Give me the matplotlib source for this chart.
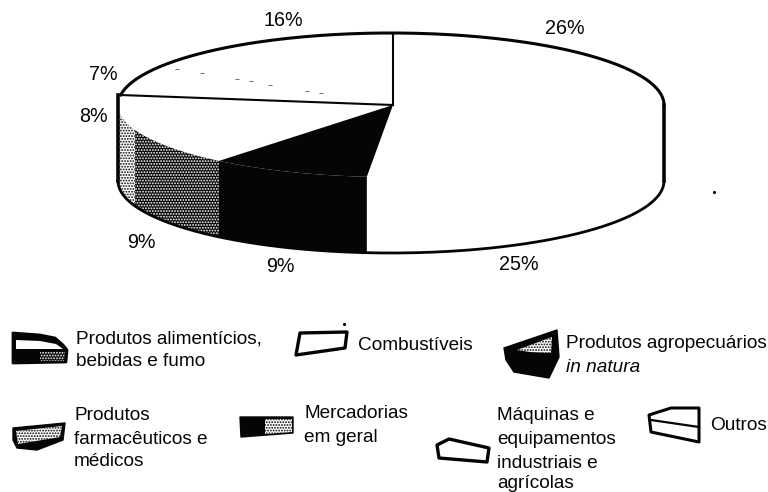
"""
Pie (fake 3D) of cargo shares with a hand-placed legend, scan-like look.
Everything is drawn in pixel coordinates of the 768x492 picture.
"""
import numpy as np
import matplotlib
matplotlib.use("Agg")
import matplotlib.pyplot as plt
from matplotlib.patches import Polygon

plt.rcParams['font.family'] = ['Liberation Sans', 'DejaVu Sans']
plt.rcParams['hatch.linewidth'] = 0.9

# clockwise from the top; shares are measured off the drawing, printed ones differ a bit
categories = ["Combustíveis", "Produtos alimentícios, bebidas e fumo",
              "Produtos agropecuários in natura", "Produtos farmacêuticos e médicos",
              "Mercadorias em geral", "Máquinas e equipamentos industriais e agrícolas",
              "Outros"]
shares = [26.0, 25.4, 9.44, 8.5, 7.86, 6.78, 16.0]
printed = ["26%", "25%", "9%", "9%", "8%", "7%", "16%"]

CX, CY = 391, 105      # centre of the top ellipse
A, B = 273, 72         # half axes
DEPTH = 76             # height of the side wall
APEX = (393, 105)      # the wedges meet slightly off centre in the original
INK = "#050505"
FS = 13.7

fig = plt.figure(figsize=(7.68, 4.92), dpi=100)
ax = fig.add_axes([0, 0, 1, 1])
ax.set_xlim(0, 768); ax.set_ylim(492, 0); ax.axis("off")

edges = 90 - 360 * np.cumsum([0] + shares) / np.sum(shares)


def arc(t0, t1, dy=0, n=80):
    t = np.radians(np.linspace(t0, t1, n))
    return np.column_stack([CX + A * np.cos(t), CY + dy - B * np.sin(t)])


def side(t0, t1):
    """Side wall between two angles (only the part facing the viewer)."""
    return np.vstack([arc(t0, t1), arc(t1, t0, DEPTH)])


# top faces, all white but the black agro slice
ax.add_patch(Polygon(np.vstack([[APEX], arc(edges[2], edges[3])]), fc=INK, ec="none", zorder=2))

# side walls
ax.add_patch(Polygon(side(edges[3], edges[2]), fc=INK, ec="none", zorder=2))
ax.add_patch(Polygon(side(edges[4], edges[3]), fc=INK, ec="white", hatch="......", lw=0, zorder=2))
ax.add_patch(Polygon(side(-180, edges[4]), fc="white", ec=INK, hatch="......", lw=0, zorder=2))

# outlines
ax.plot(*arc(172, 0, 0, 200).T, color=INK, lw=2.2, zorder=4)
ax.plot(*arc(-180, 0, DEPTH, 200).T, color=INK, lw=2.0, zorder=4)
ax.plot([CX - A, CX - A], [CY - 10, CY + DEPTH], color=INK, lw=2.6, zorder=4)
ax.plot([CX + A, CX + A], [CY, CY + DEPTH], color=INK, lw=2.6, zorder=4)

# slice separators on the top face
ax.plot([APEX[0], APEX[0]], [APEX[1], CY - B], color=INK, lw=1.5, zorder=4)
p = arc(edges[5], edges[5], 0, 2)[0]
ax.plot([APEX[0], p[0]], [APEX[1], p[1]], color=INK, lw=1.5, zorder=4)

# the faded 7/16 separator only survives as dust
p = arc(edges[6], edges[6], 0, 2)[0]
dust = np.array([0.93, 0.82, 0.67, 0.61, 0.53, 0.37, 0.31])
ax.plot(APEX[0] + (p[0] - APEX[0]) * dust, APEX[1] + (p[1] - APEX[1]) * dust,
        ls="none", marker="_", ms=2.5, color="#555555", mew=0.6, zorder=4)

# percentages
label_pos = [(565, 29), (519, 264), (280, 267), (141, 242), (93, 116), (103, 74), (283, 21)]
for txt, (x, y) in zip(printed, label_pos):
    ax.text(x, y, txt, ha="center", va="center", fontsize=14.2, color=INK)

# legend texts: x, y of each line
legend_lines = [
    (76, 339, "Produtos alimentícios,"), (76, 362, "bebidas e fumo"),
    (358, 345, "Combustíveis"),
    (566, 344, "Produtos agropecuários"),
    (74, 415, "Produtos"), (74, 439, "farmacêuticos e"), (74, 461, "médicos"),
    (304, 413, "Mercadorias"), (304, 437, "em geral"),
    (497, 415, "Máquinas e"), (497, 439, "equipamentos"), (497, 463, "industriais e"), (497, 484, "agrícolas"),
    (710, 425, "Outros"),
]
for x, y, s in legend_lines:
    ax.text(x, y, s, ha="left", va="center", fontsize=FS, color=INK)
ax.text(566, 368, "in natura", ha="left", va="center", fontsize=FS, style="italic", color=INK)


def swatch(pts, **kw):
    kw.setdefault("fc", "white"); kw.setdefault("ec", INK); kw.setdefault("lw", 2.0)
    ax.add_patch(Polygon(pts, closed=True, joinstyle="round", **kw))


# legend swatches
swatch([(13, 333), (40, 335), (55, 338), (63, 345), (67, 350), (66, 362), (13, 363)], fc=INK)
swatch([(16, 340), (40, 341), (56, 344), (63, 349), (16, 349)], lw=0)
swatch([(40, 351), (65, 351), (64, 361), (40, 361)], fc=INK, ec="white", hatch="......", lw=0)
swatch([(296, 355), (300, 333), (347, 332), (345, 348)], lw=2.4)
swatch([(504, 348), (557, 330), (559, 357), (549, 378), (514, 372), (506, 360)], fc=INK, lw=1)
swatch([(517, 350), (552, 337), (551, 353), (530, 352)], fc="white", ec=INK, hatch="......", lw=0)
swatch([(13, 428), (65, 423), (63, 440), (37, 450), (17, 448), (13, 440)], fc=INK, lw=1)
swatch([(16, 431), (62, 426), (60, 437), (18, 444)], fc="white", ec=INK, hatch="......", lw=0)
swatch([(240, 417), (293, 417), (293, 433), (241, 437)], fc=INK, lw=1)
swatch([(265, 419), (292, 419), (292, 432), (265, 434)], fc="white", ec=INK, hatch="......", lw=0)
swatch([(437, 445), (449, 439), (489, 448), (487, 462), (439, 458)], lw=2.4)
swatch([(649, 415), (671, 408), (699, 408), (699, 442), (651, 432)], lw=2.2)
ax.plot([651, 699], [420, 427], color=INK, lw=1.6)

# specks from the scan
ax.plot([714, 344], [192, 324], ls="none", marker=".", ms=2.5, color=INK)

fig.savefig("out.png", dpi=100)
